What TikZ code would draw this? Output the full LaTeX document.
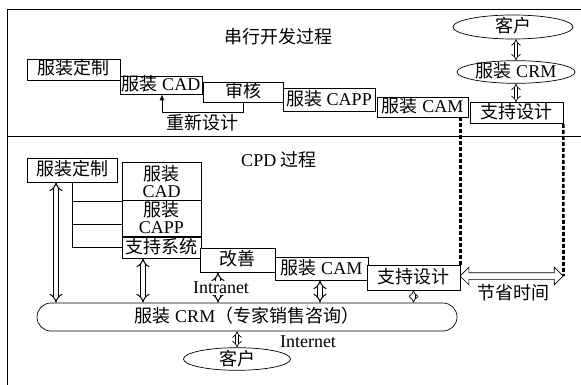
\documentclass[tikz,border=0pt]{standalone}
\usepackage{fontspec}
\setmainfont{Liberation Serif}
\newfontfamily\cjk{Noto Sans CJK SC}
\usetikzlibrary{arrows.meta,shapes.geometric,shapes.misc,shapes.arrows}
\newcommand\zh[1]{{\cjk #1}}
\begin{document}
\begin{tikzpicture}[x=1pt,y=-1pt, font=\fontsize{18}{19}\selectfont,
  ln/.style={line width=0.7pt},
  box/.style={draw, line width=0.7pt, fill=white, inner sep=0pt},
  tb/.style={box, text height=14pt, text depth=3pt},
  ell/.style={ellipse, draw, line width=0.7pt, inner sep=0pt, text height=14pt, text depth=2pt},
  dbl/.style={double, double distance=3.6pt, line width=1pt, {Implies}-{Implies}},
  dbls/.style={double, double distance=2.6pt, line width=0.7pt, {Implies}-{Implies}},
  dsh/.style={line width=2.6pt, dash pattern=on 4pt off 2pt}]
\useasboundingbox (0,0) rectangle (581,385);
\draw[ln] (581,9) -- (7,9) -- (7,385);
\draw[ln] (7,136) -- (581,136);

% ---------- top: serial development ----------
\node (title1) at (278,37) {\zh{串行开发过程}};
\node[tb, minimum width=93pt, minimum height=21pt] (t1) at (73.5,69.5) {\zh{服装定制}};
\node[tb, minimum width=82pt, minimum height=18pt] (t2) at (161,85) {\zh{服装} CAD};
\node[tb, minimum width=80pt, minimum height=20pt] (t3) at (243,92) {\zh{审核}};
\node[tb, minimum width=92pt, minimum height=23pt] (t4) at (329,100) {\zh{服装} CAPP};
\node[tb, minimum width=91pt, minimum height=20pt] (t5) at (422.5,107) {\zh{服装} CAM};
\node[tb, minimum width=93pt, minimum height=21pt] (t6) at (516.5,113) {\zh{支持设计}};

\coordinate (fb) at (162,112);
\draw[ln, -{Latex[length=6pt,width=5pt]}] (t3.south) |- (fb) -- (fb |- t2.south);
\node (fbl) at (202,123) {\zh{重新设计}};

\node[ell, minimum width=120pt, minimum height=24pt] (c1) at (513,27) {\zh{客户}};
\node[ell, minimum width=118pt, minimum height=21pt] (c2) at (516,72) {\zh{服装} CRM};
\draw[dbls] (c2.north |- c1.south) -- (c2.north);
\draw[dbls] (c2.south) -- (c2.south |- t6.north);

% ---------- bottom: CPD ----------
\node (title2) at (279,160) {CPD \zh{过程}};
\node[tb, minimum width=90pt, minimum height=24pt] (b1) at (72,170) {\zh{服装定制}};
\node[box, align=center, font=\fontsize{18}{17}\selectfont, minimum width=79pt, minimum height=39pt] (b2) at (161.5,181.5) {\zh{服装}\\CAD};
\node[box, align=center, font=\fontsize{18}{17}\selectfont, minimum width=79pt, minimum height=36pt] (b3) at (161.5,218) {\zh{服装}\\CAPP};
\node[tb, minimum width=79pt, minimum height=21pt] (b4) at (161.5,247.5) {\zh{支持系统}};
\node[tb, minimum width=75pt, minimum height=24pt] (b5) at (237.5,260) {\zh{改善}};
\node[tb, minimum width=93pt, minimum height=23pt] (b6) at (321.5,268.5) {\zh{服装} CAM};
\node[tb, minimum width=93pt, minimum height=25pt] (b7) at (413.5,277.5) {\zh{支持设计}};

\coordinate (br1) at (72,201);
\coordinate (br2) at (72,224);
\coordinate (br3) at (72,247);
\draw[ln] (b1.south) -- (br3) -- (br3 -| b4.west);
\draw[ln] (br1) -- (br1 -| b2.west);
\draw[ln] (br2) -- (br2 -| b3.west);

\node[rounded rectangle, draw, line width=0.7pt, inner sep=0pt, text height=14pt, text depth=3pt,
      minimum width=420pt, minimum height=28pt] (crm) at (247,317)
      {\zh{服装} CRM\zh{（专家销售咨询）}\hspace{13pt}};
\node[ell, minimum width=107pt, minimum height=22pt] (kh) at (237,359) {\zh{客户}};

\draw[dbl] ([xshift=-16pt]b1.south) -- ([xshift=-16pt]b1.south |- crm.north);
\draw[dbl] ([xshift=-18.5pt]b4.south) -- ([xshift=-18.5pt]b4.south |- crm.north);
\draw[dbl] ([xshift=-19.5pt]b5.south) -- ([xshift=-19.5pt]b5.south |- crm.north);
\draw[dbl] ([xshift=-1.5pt]b6.south) -- ([xshift=-1.5pt]b6.south |- crm.north);
\draw[dbls] (b7.south) -- (b7.south |- crm.north);
\draw[dbls] (kh.north |- crm.south) -- (kh.north);

\node[fill=white, inner sep=1pt] (intra) at (221,288) {Intranet};
\node (inter) at (308,342) {Internet};

\node[double arrow, draw, line width=0.7pt, minimum height=103pt, minimum width=17pt,
      inner sep=3pt, double arrow head extend=5.5pt, double arrow head indent=0pt] (tsave) at (511.5,276) {};
\node (tsl) at (513,293) {\zh{节省时间}};

\draw[dsh] (b7.north east |- t5.south) -- (b7.north east);
\draw[dsh] (t6.south east) -- (tsave.east);
\end{tikzpicture}
\end{document}
